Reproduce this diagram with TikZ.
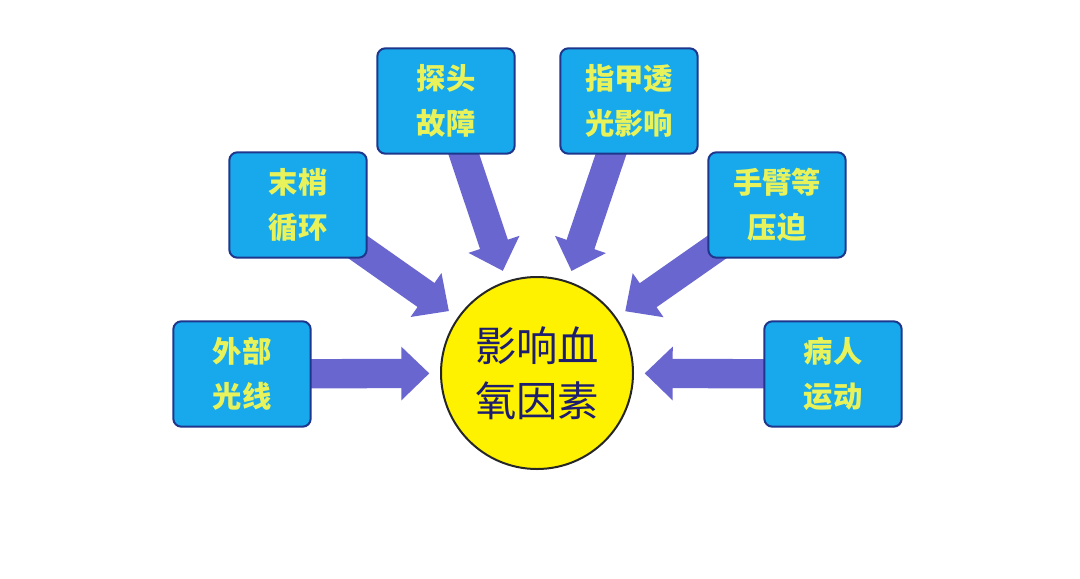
\documentclass[tikz,border=0pt]{standalone}
\usepackage{fontspec}
\newfontfamily\cjk{Noto Sans CJK SC}
\usetikzlibrary{arrows.meta, backgrounds}
\definecolor{boxblue}{RGB}{23,169,236}
\definecolor{boxline}{RGB}{30,55,140}
\definecolor{arrowblue}{RGB}{106,102,208}
\definecolor{txtyellow}{RGB}{232,242,90}
\definecolor{hubtext}{RGB}{30,30,110}
\tikzstyle{factor} = [draw=boxline, line width=1.5pt, rounded corners=6pt, fill=boxblue, minimum width=103pt, minimum height=79pt, align=center, text=txtyellow, font=\cjk\bfseries\fontsize{22}{34}\selectfont]
\tikzstyle{hub} = [circle, draw=black!85, line width=1.5pt, fill=yellow, minimum size=144pt, inner sep=0pt, align=center, text=hubtext, font=\cjk\fontsize{31}{41}\selectfont]
\tikzstyle{fat} = [arrowblue, line width=22pt, -{Triangle[length=21pt, width=39pt]}, shorten >=8pt]

\begin{document}
\begin{tikzpicture}[x=0.75pt, y=-0.75pt]
        \useasboundingbox (0,0) rectangle (1080,578);
        \node[hub] (spo2) at (537,373) {影响血\\氧因素};
        \node[factor] (waibu) at (242,374) {外部\\光线};
        \node[factor] (moshao) at (298,205) {末梢\\循环};
        \node[factor] (tantou) at (446,101) {探头\\故障};
        \node[factor] (zhijia) at (629,101) {指甲透\\光影响};
        \node[factor] (shoubi) at (777,205) {手臂等\\压迫};
        \node[factor] (bingren) at (833,374) {病人\\运动};
        \begin{scope}[on background layer]
            \fill[white] (0,0) rectangle (1080,578);
            \foreach \src in {waibu, moshao, tantou, zhijia, shoubi, bingren}
                \draw[fat] (\src.center) -- (spo2);
        \end{scope}
    \end{tikzpicture}
\end{document}
